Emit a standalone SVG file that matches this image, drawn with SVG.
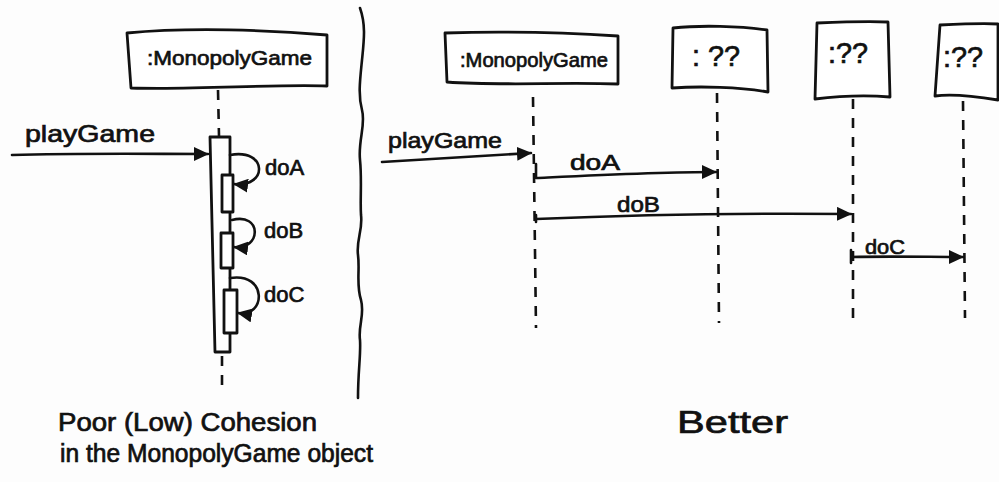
<svg xmlns="http://www.w3.org/2000/svg" width="999" height="482" viewBox="0 0 999 482">
<style>
.ln{fill:none;stroke:#111;stroke-width:2.6;stroke-linecap:round;stroke-linejoin:round}
.box{fill:#fff;stroke:#111;stroke-width:2.8;stroke-linejoin:round}
.life{fill:none;stroke:#111;stroke-width:2.6;stroke-dasharray:10 9}
.t{font-family:"Liberation Sans","DejaVu Sans",sans-serif;fill:#111;stroke:#111;stroke-width:0.7}
</style>
<defs>
<marker id="ah" markerUnits="userSpaceOnUse" markerWidth="16" markerHeight="14" refX="14" refY="7" orient="auto">
<path d="M0,0 L15,7 L0,14 Z" fill="#111"/>
</marker>
</defs>
<rect width="999" height="482" fill="#fdfdfd"/>

<g id="divider">
<path class="ln" d="M360,8 C366,25 364,40 362,60 C360,80 358,95 362,110 C366,125 358,140 360,160 C362,180 360,200 361,215 C363,230 356,240 358,255 C360,270 356,285 361,300 C365,315 358,325 360,340 C361,355 358,370 358,398"/>
</g>

<g id="left-game">
<path class="box" d="M127,33 C190,27 270,30 327,35 L327,86 C270,84 200,90 131,88 Z"/>
<text class="t" x="147" y="65" font-size="21" textLength="165" lengthAdjust="spacingAndGlyphs">:MonopolyGame</text>
</g>

<g id="left-activation">
<path class="box" d="M210,137 L230,137 L230,352 L215,352 Z"/>
<rect class="box" x="222" y="175" width="11" height="37"/>
<rect class="box" x="221" y="233" width="12" height="35"/>
<rect class="box" x="224" y="290" width="13" height="43"/>
</g>

<g id="right-game">
<path class="box" d="M445,33 C510,31 570,33 618,36 L618,84 C560,82 500,86 447,82 Z"/>
<text class="t" x="460" y="67" font-size="20" textLength="148" lengthAdjust="spacingAndGlyphs">:MonopolyGame</text>
</g>

<g id="unknown-1">
<path class="box" d="M673,28 C700,25 740,26 767,30 L768,92 C740,87 700,86 672,88 Z"/>
<text class="t" x="692" y="66" font-size="30" textLength="48" lengthAdjust="spacingAndGlyphs" stroke-width="0.3">: ??</text>
</g>

<g id="unknown-2">
<path class="box" d="M817,23 C840,22 870,21 888,22 L890,97 C865,95 840,96 815,99 Z"/>
<text class="t" x="828" y="63" font-size="30" textLength="40" lengthAdjust="spacingAndGlyphs" stroke-width="0.3">:??</text>
</g>

<g id="unknown-3">
<path class="box" d="M940,25 C960,24 985,23 998,24 L998,100 C980,97 955,93 935,96 Z"/>
<text class="t" x="943" y="67" font-size="30" textLength="40" lengthAdjust="spacingAndGlyphs" stroke-width="0.3">:??</text>
</g>

<g id="connectors">
<path class="life" d="M218,90 L219,136"/>
<path class="life" d="M222,356 L222,392"/>
<path class="life" d="M533,97 L536,328"/>
<path class="life" d="M717,93 L719,323"/>
<path class="life" d="M853,99 L853,320"/>
<path class="life" d="M963,101 L965,318"/>
<path class="ln" d="M12,155 C80,153 150,154 208,154" marker-end="url(#ah)"/>
<path class="ln" d="M230,155 C268,148 268,188 234,184" marker-end="url(#ah)"/>
<path class="ln" d="M232,220 C262,212 262,250 234,247" marker-end="url(#ah)"/>
<path class="ln" d="M230,278 C268,272 266,318 238,313" marker-end="url(#ah)"/>
<path class="ln" d="M382,162 C430,159 480,156 531,153" marker-end="url(#ah)"/>
<path class="ln" d="M536,164 L536,178 C600,175 660,172 716,172" marker-end="url(#ah)"/>
<path class="ln" d="M536,215 L536,222 M536,219 C650,214 750,213 851,214" marker-end="url(#ah)"/>
<path class="ln" d="M851,250 L851,263 M851,257 C890,256 930,257 963,257" marker-end="url(#ah)"/>
</g>

<g id="labels">
<text class="t" x="25" y="142" font-size="24" textLength="130" lengthAdjust="spacingAndGlyphs">playGame</text>
<text class="t" x="265" y="175" font-size="22">doA</text>
<text class="t" x="264" y="238" font-size="22">doB</text>
<text class="t" x="264" y="302" font-size="22">doC</text>
<text class="t" x="388" y="148" font-size="22" textLength="114" lengthAdjust="spacingAndGlyphs">playGame</text>
<text class="t" x="570" y="170" font-size="22" textLength="50" lengthAdjust="spacingAndGlyphs">doA</text>
<text class="t" x="617" y="212" font-size="22" textLength="43" lengthAdjust="spacingAndGlyphs">doB</text>
<text class="t" x="865" y="254" font-size="20" textLength="40" lengthAdjust="spacingAndGlyphs">doC</text>
</g>

<g id="captions">
<text class="t" x="58" y="431" font-size="25" textLength="259" lengthAdjust="spacingAndGlyphs">Poor (Low) Cohesion</text>
<text class="t" x="60" y="462" font-size="25" textLength="313" lengthAdjust="spacingAndGlyphs">in the MonopolyGame object</text>
<text class="t" x="677" y="433" font-size="32" textLength="111" lengthAdjust="spacingAndGlyphs">Better</text>
</g>
</svg>
